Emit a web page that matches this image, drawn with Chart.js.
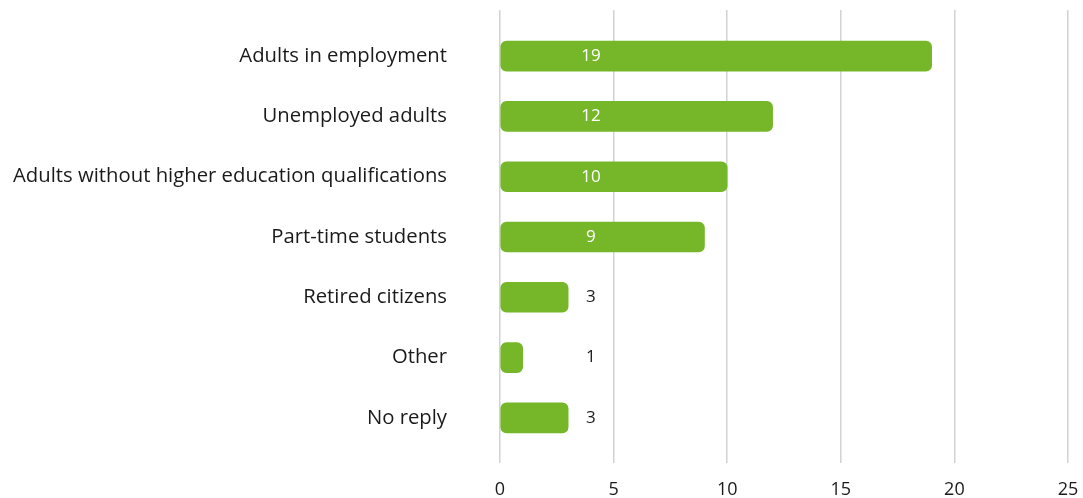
<!DOCTYPE html>
<html>
<head>
<meta charset="utf-8">
<script src="https://cdn.jsdelivr.net/npm/chart.js@4"></script>
<style>
  html, body { margin: 0; padding: 0; background: #fff; }
  #wrap { position: relative; width: 1083px; height: 498px; }
</style>
</head>
<body>
<div id="wrap"><canvas id="chart"></canvas></div>
<script>
// data
const categories = [
  'Adults in employment',
  'Unemployed adults',
  'Adults without higher education qualifications',
  'Part-time students',
  'Retired citizens',
  'Other',
  'No reply'
];
const counts = [19, 12, 10, 9, 3, 1, 3];
const axisMin = 0;
const axisMax = 25;
const axisStep = 5;

const GREEN = '#76b72a';
const GRID = '#d2d2d2';
const TEXT = '#1a1a1a';
const FONT = "'Open Sans', sans-serif";

// value labels sit in a fixed column near the start of the bars
const valueLabels = {
  id: 'valueLabels',
  afterDatasetsDraw(chart) {
    const { ctx, scales } = chart;
    const meta = chart.getDatasetMeta(0);
    const xCol = scales.x.getPixelForValue(4);
    ctx.save();
    ctx.font = '17px ' + FONT;
    ctx.textAlign = 'center';
    ctx.textBaseline = 'middle';
    meta.data.forEach((bar, i) => {
      ctx.fillStyle = bar.x > xCol + 10 ? '#ffffff' : TEXT;
      ctx.fillText(String(counts[i]), xCol, bar.y);
    });
    ctx.restore();
  }
};

new Chart(document.getElementById('chart'), {
  type: 'bar',
  data: {
    labels: categories,
    datasets: [{
      data: counts,
      backgroundColor: GREEN,
      borderRadius: 6,
      borderSkipped: false,
      barThickness: 30
    }]
  },
  options: {
    indexAxis: 'y',
    responsive: true,
    maintainAspectRatio: false,
    animation: false,
    layout: { padding: { top: 10, right: 15, bottom: 0, left: 0 } },
    plugins: {
      legend: { display: false },
      tooltip: { enabled: false }
    },
    scales: {
      x: {
        type: 'linear',
        min: axisMin,
        max: axisMax,
        ticks: { stepSize: axisStep, color: TEXT, font: { family: FONT, size: 18 }, padding: 16 },
        grid: { color: GRID, lineWidth: 1.5, tickLength: 15 },
        border: { display: false },
        afterFit(scale) {
          // chart.js counts tick padding twice here, pin the band instead
          scale.height = 50;
          scale.paddingLeft = 0;
          scale.paddingRight = 0;
        }
      },
      x2: {
        type: 'linear',
        position: 'top',
        min: axisMin,
        max: axisMax,
        ticks: { display: false, stepSize: axisStep },
        grid: { color: GRID, lineWidth: 1.5, tickLength: 16, drawOnChartArea: false },
        border: { display: false }
      },
      y: {
        ticks: { color: TEXT, font: { family: FONT, size: 20.3 }, padding: 0 },
        // hidden tick marks just push the labels away from the bars
        grid: { display: false, drawTicks: true, tickLength: 53 },
        border: { display: false },
        afterFit(scale) { scale.width = 500; }
      }
    }
  },
  plugins: [valueLabels]
});
</script>
</body>
</html>
